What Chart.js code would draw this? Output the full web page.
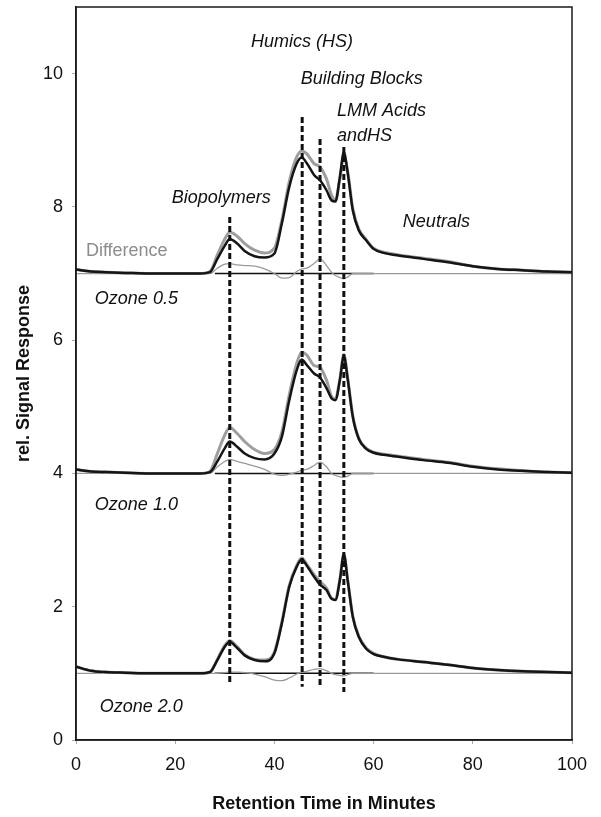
<!DOCTYPE html>
<html>
<head>
<meta charset="utf-8">
<script src="https://cdn.jsdelivr.net/npm/chart.js@4.4.1/dist/chart.umd.min.js"></script>
<style>
  html, body { margin: 0; padding: 0; background: #fff; }
</style>
</head>
<body>
<canvas id="lcocChart" width="601" height="817"></canvas>
<script>
// Retention time grid shared by every trace (minutes)
const retentionTime = [0, 3, 6, 10, 15, 20, 25, 27, 28.5, 30, 31, 32.5, 34, 36, 38, 40, 41.5, 43, 44.5, 45.5, 46.5, 48, 49.2, 50.5, 51.5, 52.3, 53.2, 54, 54.8, 55.8, 57, 58.5, 60, 62, 65, 70, 75, 80, 85, 90, 95, 100];

// Ozone 0.5 (offset by 7)
const ozone05Treated = [7.06, 7.03, 7.02, 7.01, 7.0, 7.0, 7.0, 7.02, 7.22, 7.42, 7.52, 7.45, 7.34, 7.26, 7.24, 7.3, 7.75, 8.3, 8.65, 8.74, 8.66, 8.48, 8.4, 8.25, 8.1, 8.08, 8.45, 8.82, 8.5, 7.95, 7.65, 7.5, 7.37, 7.31, 7.27, 7.22, 7.17, 7.11, 7.07, 7.05, 7.03, 7.02];
const ozone05Raw = [7.06, 7.03, 7.02, 7.01, 7.0, 7.0, 7.0, 7.03, 7.28, 7.52, 7.62, 7.56, 7.45, 7.35, 7.31, 7.38, 7.8, 8.38, 8.75, 8.84, 8.8, 8.65, 8.6, 8.42, 8.18, 8.1, 8.42, 8.76, 8.52, 7.98, 7.67, 7.51, 7.38, 7.32, 7.28, 7.23, 7.18, 7.11, 7.07, 7.05, 7.03, 7.02];
const ozone05Diff = [7.0, 7.0, 7.0, 7.0, 7.0, 7.0, 7.0, 7.0, 7.08, 7.14, 7.15, 7.13, 7.12, 7.11, 7.07, 7.0, 6.93, 6.94, 7.03, 7.07, 7.08, 7.15, 7.22, 7.12, 7.02, 6.97, 6.94, 6.92, 6.95, 7.0, 7.0, 7.0, 7.0, 7.0, 7.0, 7.0, 7.0, 7.0, 7.0, 7.0, 7.0, 7.0];

// Ozone 1.0 (offset by 4)
const ozone10Treated = [4.06, 4.03, 4.02, 4.01, 4.0, 4.0, 4.0, 4.02, 4.18, 4.38, 4.48, 4.4, 4.3, 4.23, 4.21, 4.3, 4.55, 5.1, 5.55, 5.71, 5.63, 5.5, 5.44, 5.28, 5.13, 5.1, 5.4, 5.76, 5.4, 4.85, 4.52, 4.37, 4.31, 4.28, 4.25, 4.2, 4.16, 4.1, 4.06, 4.04, 4.02, 4.01];
const ozone10Raw = [4.06, 4.03, 4.02, 4.01, 4.0, 4.0, 4.0, 4.03, 4.3, 4.58, 4.69, 4.6, 4.48, 4.36, 4.3, 4.36, 4.62, 5.18, 5.65, 5.82, 5.78, 5.62, 5.59, 5.4, 5.16, 5.12, 5.42, 5.78, 5.42, 4.87, 4.53, 4.38, 4.32, 4.29, 4.26, 4.21, 4.17, 4.11, 4.07, 4.04, 4.02, 4.01];
const ozone10Diff = [4.0, 4.0, 4.0, 4.0, 4.0, 4.0, 4.0, 4.0, 4.1, 4.18, 4.21, 4.18, 4.15, 4.11, 4.06, 3.99, 3.97, 3.99, 4.02, 4.05, 4.06, 4.12, 4.17, 4.1, 4.0, 3.97, 3.95, 3.94, 3.96, 4.0, 4.0, 4.0, 4.0, 4.0, 4.0, 4.0, 4.0, 4.0, 4.0, 4.0, 4.0, 4.0];

// Ozone 2.0 (offset by 1)
const ozone20Treated = [1.1, 1.04, 1.02, 1.01, 1.0, 1.0, 1.0, 1.02, 1.2, 1.4, 1.47, 1.38, 1.27, 1.2, 1.18, 1.3, 1.75, 2.3, 2.6, 2.71, 2.62, 2.45, 2.33, 2.25, 2.12, 2.1, 2.4, 2.78, 2.38, 1.85, 1.55, 1.37, 1.29, 1.25, 1.21, 1.17, 1.13, 1.08, 1.05, 1.03, 1.02, 1.01];
const ozone20Raw = [1.1, 1.04, 1.02, 1.01, 1.0, 1.0, 1.0, 1.02, 1.21, 1.42, 1.49, 1.4, 1.28, 1.21, 1.2, 1.32, 1.77, 2.32, 2.62, 2.73, 2.64, 2.48, 2.38, 2.28, 2.13, 2.11, 2.41, 2.79, 2.39, 1.86, 1.56, 1.38, 1.3, 1.25, 1.21, 1.17, 1.13, 1.08, 1.05, 1.03, 1.02, 1.01];
const ozone20Diff = [1.0, 1.0, 1.0, 1.0, 1.0, 1.0, 1.0, 1.0, 1.0, 1.01, 1.02, 1.02, 1.01, 0.99, 0.95, 0.9, 0.89, 0.93, 0.99, 1.02, 1.03, 1.06, 1.07, 1.04, 1.0, 0.98, 0.97, 0.96, 0.98, 1.0, 1.0, 1.0, 1.0, 1.0, 1.0, 1.0, 1.0, 1.0, 1.0, 1.0, 1.0, 1.0];

// Baseline of each chromatogram and the span it is drawn over
const baselineLevels = [7, 4, 1];
const baselineSpan = [28, 60];

// Fraction markers: retention time and vertical extent of each dashed line
const fractionTimes = [31, 45.6, 49.2, 54];
const fractionTops = [7.85, 9.35, 9.02, 8.9];
const fractionBottoms = [0.87, 0.8, 0.8, 0.72];

const xTicks = [0, 20, 40, 60, 80, 100];
const yTicks = [0, 2, 4, 6, 8, 10];

const FONT = "'Liberation Sans', Arial, sans-serif";

// Text placed inside the plot (data coordinates, left aligned)
const plotLabels = [
    { text: 'Humics (HS)', x: 35.3, y: 10.48, italic: true },
    { text: 'Building Blocks', x: 45.3, y: 9.92, italic: true },
    { text: 'LMM Acids', x: 52.6, y: 9.44, italic: true },
    { text: 'andHS', x: 52.6, y: 9.07, italic: true },
    { text: 'Biopolymers', x: 19.3, y: 8.14, italic: true },
    { text: 'Neutrals', x: 65.9, y: 7.77, italic: true },
    { text: 'Difference', x: 2.0, y: 7.34, italic: false, color: '#8c8c8c' },
    { text: 'Ozone 0.5', x: 3.8, y: 6.62, italic: true },
    { text: 'Ozone 1.0', x: 3.8, y: 3.53, italic: true },
    { text: 'Ozone 2.0', x: 4.8, y: 0.5, italic: true }
];

function toPoints(values) {
    return retentionTime.map((t, i) => ({ x: t, y: values[i] }));
}

function trace(label, values, color, width, order) {
    return {
        label: label,
        data: toPoints(values),
        borderColor: color,
        borderWidth: width,
        pointRadius: 0,
        cubicInterpolationMode: 'monotone',
        fill: false,
        order: order
    };
}

const datasets = [];

// dashed fraction markers on top of everything
fractionTimes.forEach((t, i) => {
    datasets.push({
        label: 'fraction ' + t,
        data: [{ x: t, y: fractionTops[i] }, { x: t, y: fractionBottoms[i] }],
        borderColor: '#111',
        borderWidth: 3,
        borderDash: [6, 3],
        pointRadius: 0,
        order: 0
    });
});

datasets.push(trace('Ozone 0.5', ozone05Treated, '#151515', 2.5, 1));
datasets.push(trace('Ozone 1.0', ozone10Treated, '#151515', 2.5, 1));
datasets.push(trace('Ozone 2.0', ozone20Treated, '#151515', 2.5, 1));
datasets.push(trace('Raw 0.5', ozone05Raw, '#9e9e9e', 3, 2));
datasets.push(trace('Raw 1.0', ozone10Raw, '#9e9e9e', 3, 2));
datasets.push(trace('Raw 2.0', ozone20Raw, '#9e9e9e', 3, 2));
datasets.push(trace('Difference 0.5', ozone05Diff, '#9a9a9a', 1.3, 3));
datasets.push(trace('Difference 1.0', ozone10Diff, '#9a9a9a', 1.3, 3));
datasets.push(trace('Difference 2.0', ozone20Diff, '#9a9a9a', 1.3, 3));

baselineLevels.forEach(level => {
    datasets.push({
        label: 'baseline ' + level,
        data: [{ x: baselineSpan[0], y: level }, { x: baselineSpan[1], y: level }],
        borderColor: '#111',
        borderWidth: 1.5,
        pointRadius: 0,
        order: 4
    });
});

// frame around the plot area + italic labels
const plotDecor = {
    id: 'plotDecor',
    afterDatasetsDraw(chart) {
        const { ctx, chartArea, scales } = chart;
        ctx.save();
        ctx.textAlign = 'left';
        ctx.textBaseline = 'middle';
        plotLabels.forEach(l => {
            ctx.font = (l.italic ? 'italic ' : '') + '18px ' + FONT;
            ctx.fillStyle = l.color || '#111';
            ctx.fillText(l.text, scales.x.getPixelForValue(l.x), scales.y.getPixelForValue(l.y));
        });
        ctx.strokeStyle = '#1a1a1a';
        ctx.lineWidth = 1.5;
        ctx.strokeRect(chartArea.left, chartArea.top, chartArea.right - chartArea.left, chartArea.bottom - chartArea.top);
        ctx.restore();
    }
};

new Chart(document.getElementById('lcocChart'), {
    type: 'line',
    data: { datasets: datasets },
    plugins: [plotDecor],
    options: {
        responsive: false,
        animation: false,
        layout: { padding: { top: 7, right: 29, left: 0, bottom: 0 } },
        plugins: {
            legend: { display: false },
            tooltip: { enabled: false }
        },
        scales: {
            x: {
                type: 'linear',
                min: 0,
                max: 100,
                afterFit: s => { s.height = 77; },
                afterBuildTicks: s => { s.ticks = xTicks.map(v => ({ value: v })); },
                grid: { drawOnChartArea: false, drawTicks: true, tickLength: 4, color: '#aaa' },
                border: { color: '#1a1a1a', width: 1.5 },
                ticks: { color: '#111', font: { family: FONT, size: 18 }, padding: 10, maxRotation: 0 },
                title: {
                    display: true,
                    text: 'Retention Time in Minutes',
                    color: '#111',
                    font: { family: FONT, size: 18, weight: 'bold' },
                    padding: { top: 2, bottom: 2 }
                }
            },
            y: {
                type: 'linear',
                min: 0,
                max: 11,
                // the top tick is 10, not 11, so no room is needed above the plot
                afterFit: s => { s.width = 76; s.paddingTop = 0; s.paddingBottom = 0; },
                afterBuildTicks: s => { s.ticks = yTicks.map(v => ({ value: v })); },
                grid: { drawOnChartArea: false, drawTicks: true, tickLength: 4, color: '#aaa' },
                border: { color: '#1a1a1a', width: 1.5 },
                ticks: { color: '#111', font: { family: FONT, size: 18 }, padding: 9 },
                title: {
                    display: true,
                    text: 'rel. Signal Response',
                    color: '#111',
                    font: { family: FONT, size: 18, weight: 'bold' },
                    padding: { top: 13, bottom: 13 }
                }
            }
        }
    }
});
</script>
</body>
</html>
